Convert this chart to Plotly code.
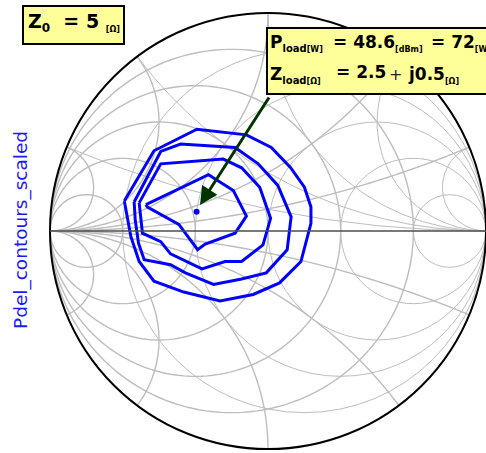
import numpy as np
import plotly.graph_objects as go

W, H = 486, 453

c1_re = [-0.659, -0.523, -0.326, -0.099, 0.015, 0.103, 0.167, 0.197, 0.197, 0.151, 0.053, -0.068, -0.220, -0.386, -0.523, -0.591, -0.629]
c1_im = [0.138, 0.368, 0.467, 0.441, 0.383, 0.292, 0.201, 0.110, 0.035, -0.140, -0.238, -0.291, -0.321, -0.280, -0.230, -0.140, -0.026]
c2_re = [-0.614, -0.492, -0.401, -0.151, -0.045, 0.045, 0.106, 0.088, -0.008, -0.121, -0.250, -0.379, -0.447, -0.568, -0.594, -0.609]
c2_im = [0.133, 0.365, 0.399, 0.383, 0.308, 0.209, 0.065, -0.086, -0.192, -0.220, -0.245, -0.192, -0.155, -0.132, -0.056, 0.050]
c3_re = [-0.591, -0.492, -0.205, -0.121, -0.038, 0.012, -0.023, -0.121, -0.197, -0.303, -0.447, -0.492, -0.576]
c3_im = [0.129, 0.308, 0.330, 0.290, 0.201, 0.058, -0.064, -0.140, -0.140, -0.174, -0.105, -0.049, -0.010]
c4_re = [-0.560, -0.273, -0.159, -0.099, -0.151, -0.288, -0.323, -0.409, -0.553]
c4_im = [0.121, 0.258, 0.186, 0.068, -0.010, -0.060, -0.086, 0.030, 0.110]

z0 = 5.0
zload = [2.5 + 0.5j]
grid_r = [0.2, 0.5, 1.0, 2.0, 5.0]
grid_x = [0.2, 0.5, 1.0, 2.0, 5.0]
grid_g = [0.2, 0.5, 1.0, 2.0, 5.0]
grid_b = [0.2, 0.5, 1.0, 2.0, 5.0]

GRID = "#BDBDBD"
GW = 1.4


def to_z(re, im):
    g = np.array(re) + 1j * np.array(im)
    g = np.append(g, g[0])
    z = (1 + g) / (1 - g)
    return z.real, z.imag


fig = go.Figure()

# admittance grid (constant g circles and constant b arcs)
sweep = np.concatenate([[0.0], np.logspace(-3, 4, 400)])
for g in grid_g:
    bb = np.concatenate([-sweep[::-1], sweep])
    z = 1 / (g + 1j * bb)
    fig.add_trace(go.Scattersmith(real=z.real, imag=z.imag, mode="lines",
                                  line=dict(color=GRID, width=GW), hoverinfo="skip"))
for b in grid_b:
    for s in (1, -1):
        z = 1 / (sweep + 1j * s * b)
        fig.add_trace(go.Scattersmith(real=z.real, imag=z.imag, mode="lines",
                                      line=dict(color=GRID, width=GW), hoverinfo="skip"))

for re, im in [(c1_re, c1_im), (c2_re, c2_im), (c3_re, c3_im), (c4_re, c4_im)]:
    zr, zi = to_z(re, im)
    fig.add_trace(go.Scattersmith(real=zr, imag=zi, mode="lines",
                                  line=dict(color="#0000FF", width=3),
                                  hoverinfo="skip"))

zn = np.array(zload) / z0
fig.add_trace(go.Scattersmith(real=zn.real, imag=zn.imag, mode="markers",
                              marker=dict(color="#0000FF", size=6)))


def px(x):
    return x / W


def py(y):
    return 1 - y / H


axis_common = dict(showticklabels=False, ticks="", gridcolor=GRID, gridwidth=GW)
fig.update_layout(
    width=W, height=H,
    margin=dict(l=0, r=0, t=0, b=0),
    paper_bgcolor="white",
    showlegend=False,
    smith=dict(
        domain=dict(x=[50 / W, 1.0], y=[py(451), py(11)]),
        bgcolor="white",
        realaxis=dict(tickvals=grid_r, linecolor="#4D4D4D", linewidth=1.5, **axis_common),
        imaginaryaxis=dict(tickvals=grid_x, linecolor="#000000", linewidth=2, **axis_common),
    ),
)

shapes = [
    dict(type="rect", xref="paper", yref="paper", x0=px(23), x1=px(124), y0=py(44), y1=py(6),
         fillcolor="#FFFF99", line=dict(color="black", width=2), layer="above"),
    dict(type="rect", xref="paper", yref="paper", x0=px(267), x1=px(500), y0=py(94), y1=py(28),
         fillcolor="#FFFF99", line=dict(color="black", width=2), layer="above"),
]
fig.update_layout(shapes=shapes)

big = dict(family="DejaVu Sans", size=17, color="black")


def sub(main, small="", msize=10):
    s = '<sub><span style="font-size:%dpx">' % msize + main + '</span>'
    if small:
        s += '<span style="font-size:8px">' + small + '</span>'
    return s + '</sub>'


ann = [
    dict(text="<b>Z" + sub("0", msize=12) + "  = 5 " + sub("", "[Ω]") + "</b>", x=px(27), y=py(36),
         font=dict(family="DejaVu Sans", size=19, color="black")),
    dict(text="<b>P" + sub("load", "[W]") + "</b>", x=px(269), y=py(55)),
    dict(text="<b>= 48.6" + sub("", "[dBm]") + "</b>", x=px(332), y=py(55)),
    dict(text="<b>= 72" + sub("", "[W]") + "</b>", x=px(430), y=py(55)),
    dict(text="<b>Z" + sub("load", "[Ω]") + "</b>", x=px(269), y=py(87)),
    dict(text="<b>= 2.5</b>", x=px(335), y=py(83)),
    dict(text="+", x=px(388), y=py(85), font=dict(family="DejaVu Sans", size=16, color="#222222")),
    dict(text="<b>j0.5" + sub("", "[Ω]") + "</b>", x=px(407), y=py(87)),
]
for a in ann:
    a.setdefault("font", big)
    a.update(xref="paper", yref="paper", showarrow=False, borderpad=0,
             xanchor="left", yanchor="bottom", align="left")
    fig.add_annotation(**a)

fig.add_annotation(x=px(200), y=py(205), xref="paper", yref="paper", ax=70, ay=-109,
                   text="", showarrow=True, arrowhead=2, arrowsize=1.2, arrowwidth=3,
                   arrowcolor="#003300")
fig.add_annotation(text="Pdel_contours_scaled", x=px(21), y=py(230), xref="paper", yref="paper",
                   xanchor="center", yanchor="middle",
                   textangle=-90, showarrow=False, font=dict(family="DejaVu Sans", size=18.5, color="#1A1AFF"))

fig.write_html("out.html", config={"displayModeBar": False},
               post_script="document.body.style.margin='0px';")
